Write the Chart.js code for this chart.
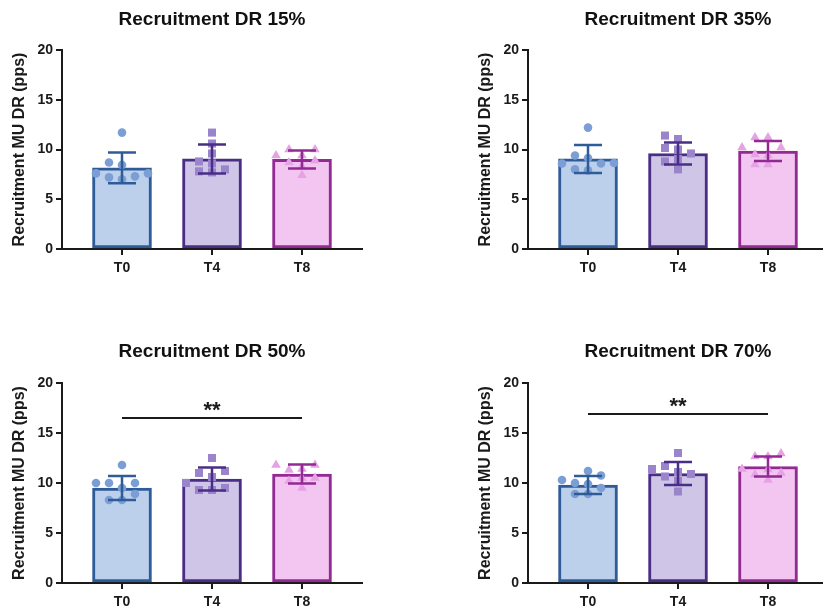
<!DOCTYPE html>
<html>
<head>
<meta charset="utf-8">
<script src="https://cdn.jsdelivr.net/npm/chart.js@4.4.1/dist/chart.umd.min.js"></script>
<style>
  html, body { margin: 0; padding: 0; background: #fff; overflow: hidden; width: 823px; height: 611px; }
  canvas { position: absolute; }
</style>
</head>
<body>
<canvas id="c0" width="411" height="300" style="left:0;top:0"></canvas>
<canvas id="c1" width="411" height="300" style="left:466px;top:0"></canvas>
<canvas id="c2" width="411" height="311" style="left:0;top:300px"></canvas>
<canvas id="c3" width="411" height="311" style="left:466px;top:300px"></canvas>
<script>
// ---- data -------------------------------------------------------------
const groups = ['T0', 'T4', 'T8'];
const panelTitles = ['Recruitment DR 15%', 'Recruitment DR 35%', 'Recruitment DR 50%', 'Recruitment DR 70%'];
const yAxisTitle = 'Recruitment MU DR (pps)';
const yTickValues = [0, 5, 10, 15, 20];

// group means and standard deviations (pps)
const dr15Mean = [8.15, 9.05, 9.0];
const dr15Sd   = [1.55, 1.45, 0.9];
const dr35Mean = [9.05, 9.6, 9.85];
const dr35Sd   = [1.4, 1.1, 1.0];
const dr50Mean = [9.5, 10.4, 10.9];
const dr50Sd   = [1.2, 1.15, 0.95];
const dr70Mean = [9.8, 10.95, 11.65];
const dr70Sd   = [0.9, 1.15, 1.0];

// individual subjects (pps)
const dr15T0 = [11.7, 8.45, 8.7, 7.2, 7.6, 7.3, 7.6, 7.0];
const dr15T4 = [11.7, 10.6, 9.6, 8.6, 7.8, 8.8, 7.7, 8.0];
const dr15T8 = [10.0, 10.0, 9.4, 9.4, 8.7, 8.9, 8.3, 7.4];
const dr35T0 = [12.2, 9.4, 9.15, 8.65, 8.6, 8.6, 7.9, 8.0];
const dr35T4 = [11.4, 11.05, 10.15, 10.0, 9.6, 9.05, 8.8, 8.0];
const dr35T8 = [11.2, 11.2, 10.2, 10.2, 9.5, 9.4, 8.5, 8.5];
const dr50T0 = [11.8, 10.0, 10.0, 10.0, 9.5, 8.3, 8.9, 8.3];
const dr50T4 = [12.5, 11.0, 11.2, 10.6, 10.0, 9.3, 9.3, 9.5];
const dr50T8 = [11.8, 11.8, 11.3, 11.4, 10.5, 10.5, 9.5, 10.2];
const dr70T0 = [11.2, 10.75, 10.3, 10.0, 9.9, 9.5, 8.9, 8.9];
const dr70T4 = [13.0, 11.4, 11.7, 11.1, 10.9, 10.65, 10.2, 9.15];
const dr70T8 = [12.95, 12.65, 12.65, 11.4, 11.35, 11.0, 10.3, 10.85];

// significance bar T0 vs T8 (height in pps), null where none
const sigHeight = [null, null, 16.5, 16.9];
const sigLabel = '**';

// ---- styling ----------------------------------------------------------
const barFill   = ['#bccfeb', '#cec5e7', '#f3c5f1'];
const barEdge   = ['#2f5c99', '#4a2e86', '#932a94'];
const dotColor  = ['#7b9fd5', '#9a85cc', '#e5a2e5'];
const dotStyle  = ['circle', 'rect', 'triangle'];
const dotRadius = [4.3, 5.7, 5.5];
const ink = '#1a1a1a';

Chart.defaults.font.family = "'Liberation Sans', Arial, sans-serif";
Chart.defaults.color = ink;

const panels = [
  { mean: dr15Mean, sd: dr15Sd, pts: [dr15T0, dr15T4, dr15T8] },
  { mean: dr35Mean, sd: dr35Sd, pts: [dr35T0, dr35T4, dr35T8] },
  { mean: dr50Mean, sd: dr50Sd, pts: [dr50T0, dr50T4, dr50T8] },
  { mean: dr70Mean, sd: dr70Sd, pts: [dr70T0, dr70T4, dr70T8] },
];

// horizontal spread of the dots: lowest values first, each dot takes the
// nearest free column around the group centre
function swarm(values, step, minGap) {
  const order = values.map((v, i) => i).sort((a, b) => values[a] - values[b]);
  const placed = [];
  const offs = new Array(values.length);
  order.forEach(i => {
    const v = values[i];
    for (let k = 0; k < 40; k++) {
      const o = k === 0 ? 0 : (k % 2 ? -1 : 1) * Math.ceil(k / 2) * step;
      const clash = placed.some(p => Math.abs(p.o - o) < step / 2 && Math.abs(p.v - v) < minGap);
      if (!clash) { placed.push({ o, v }); offs[i] = o; break; }
    }
  });
  return offs;
}

// error bars (mean ± SD) and significance bracket
const overlay = {
  id: 'overlay',
  afterDatasetsDraw(chart, args, opts) {
    const { ctx, scales: { x, y } } = chart;
    const p = opts.panel;
    ctx.save();
    ctx.lineCap = 'butt';
    p.mean.forEach((m, i) => {
      const cx = x.getPixelForValue(i);
      const top = y.getPixelForValue(m + p.sd[i]);
      const bot = y.getPixelForValue(m - p.sd[i]);
      ctx.strokeStyle = barEdge[i];
      ctx.lineWidth = 2.5;
      ctx.beginPath();
      ctx.moveTo(cx, top); ctx.lineTo(cx, bot);
      ctx.moveTo(cx - 14, top); ctx.lineTo(cx + 14, top);
      ctx.moveTo(cx - 14, bot); ctx.lineTo(cx + 14, bot);
      ctx.stroke();
    });
    if (p.sig != null) {
      const ly = y.getPixelForValue(p.sig);
      const x0 = x.getPixelForValue(0), x2 = x.getPixelForValue(2);
      ctx.strokeStyle = ink;
      ctx.lineWidth = 2;
      ctx.beginPath(); ctx.moveTo(x0, ly); ctx.lineTo(x2, ly); ctx.stroke();
      ctx.fillStyle = ink;
      ctx.font = "bold 22px 'Liberation Sans', Arial, sans-serif";
      ctx.textAlign = 'center';
      ctx.textBaseline = 'alphabetic';
      ctx.fillText(sigLabel, x.getPixelForValue(1), ly - 1);
    }
    ctx.restore();
  }
};

panels.forEach((p, idx) => {
  p.sig = sigHeight[idx];
  const isTop = idx < 2;
  const datasets = [{
    type: 'bar',
    data: p.mean.map((m, i) => ({ x: i, y: m })),
    backgroundColor: barFill,
    borderColor: barEdge,
    borderWidth: 3,
    borderSkipped: false,
    barThickness: 59,
    order: 2
  }];
  p.pts.forEach((vals, g) => {
    const offs = swarm(vals, 13 / 90, 0.85);
    datasets.push({
      type: 'scatter',
      data: vals.map((v, k) => ({ x: g + offs[k], y: v })),
      pointStyle: dotStyle[g],
      pointRadius: dotRadius[g],
      pointBackgroundColor: dotColor[g],
      pointBorderWidth: 0,
      order: 1
    });
  });

  new Chart(document.getElementById('c' + idx), {
    type: 'bar',
    data: { datasets },
    plugins: [overlay],
    options: {
      responsive: false,
      animation: false,
      events: [],
      layout: { padding: { left: 0, right: 49, top: 0, bottom: 0 } },
      plugins: {
        legend: { display: false },
        tooltip: { enabled: false },
        title: {
          display: true,
          text: panelTitles[idx],
          fullSize: false,
          color: '#111',
          font: { size: 19, weight: 'bold' },
          padding: isTop ? { top: 8.6, bottom: 18.6 } : { top: 40.6, bottom: 19.6 }
        },
        overlay: { panel: p }
      },
      scales: {
        x: {
          type: 'linear',
          min: -2 / 3,
          max: 8 / 3,
          offset: false,
          bounds: 'data',
          afterBuildTicks: s => { s.ticks = groups.map((g, i) => ({ value: i })); },
          afterFit: s => { s.height = isTop ? 51 : 28; },
          ticks: {
            callback: v => groups[v],
            font: { size: 14, weight: 'bold' },
            color: ink,
            padding: 5,
            maxRotation: 0
          },
          grid: { drawOnChartArea: false, drawTicks: true, tickLength: 6, color: ink, lineWidth: 2, offset: false },
          border: { display: true, color: ink, width: 2 }
        },
        y: {
          min: 0,
          max: 20,
          afterBuildTicks: s => { s.ticks = yTickValues.map(v => ({ value: v })); },
          afterFit: s => { s.width = 62; },
          ticks: { font: { size: 14, weight: 'bold' }, color: ink, padding: 3 },
          grid: { drawOnChartArea: false, drawTicks: true, tickLength: 6, color: ink, lineWidth: 2 },
          border: { display: true, color: ink, width: 2 },
          title: {
            display: true,
            text: yAxisTitle,
            color: ink,
            font: { size: 16, weight: 'bold' },
            padding: { top: 10, bottom: 4 }
          }
        }
      }
    }
  });
});
</script>
</body>
</html>
